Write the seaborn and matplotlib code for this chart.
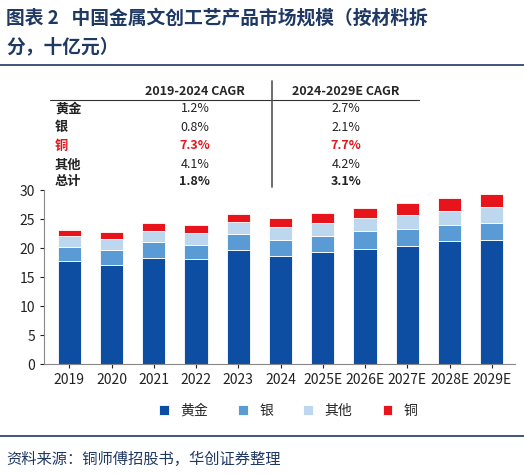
import matplotlib.pyplot as plt
import seaborn as sns
import pandas as pd

years = ["2019", "2020", "2021", "2022", "2023", "2024", "2025E", "2026E", "2027E", "2028E", "2029E"]
gold = [17.7, 17.1, 18.3, 18.05, 19.65, 18.7, 19.35, 19.9, 20.35, 21.15, 21.4]
silver = [2.5, 2.6, 2.8, 2.55, 2.7, 2.7, 2.75, 3.0, 2.95, 2.75, 3.0]
other = [1.8, 1.85, 1.9, 2.0, 2.15, 2.2, 2.3, 2.2, 2.4, 2.5, 2.6]
copper = [1.05, 1.25, 1.4, 1.4, 1.4, 1.6, 1.7, 1.8, 2.05, 2.15, 2.35]

tbl_names = ["黄金", "银", "铜", "其他", "总计"]
cagr_1924 = ["1.2%", "0.8%", "7.3%", "4.1%", "1.8%"]
cagr_2429 = ["2.7%", "2.1%", "7.7%", "4.2%", "3.1%"]

sns.set_style("ticks")
plt.rcParams['font.family'] = ['Noto Sans CJK SC', 'DejaVu Sans']

df = pd.DataFrame({"year": years, "黄金": gold, "银": silver, "其他": other, "铜": copper})
series = [("黄金", "#0d4ea3"), ("银", "#5b9bd5"), ("其他", "#bdd7ee"), ("铜", "#e8141c")]

fig = plt.figure(figsize=(5.24, 4.74), dpi=100)
ax = fig.add_axes([0.084, 0.232, 0.899, 0.367])
bottom = [0.0] * len(years)
for name, color in series:
    sns.barplot(x=df["year"], y=df[name], bottom=bottom, color=color, width=0.55,
                saturation=1, ax=ax, edgecolor="white", linewidth=0.6, label=name)
    bottom = [b + v for b, v in zip(bottom, df[name])]

handles, labels = ax.get_legend_handles_labels()
if ax.get_legend() is not None:
    ax.get_legend().remove()

ax.set_ylim(0, 30)
ax.set_yticks(range(0, 31, 5))
ax.set_xlim(-0.6, len(years) - 0.45)
ax.set_xlabel("")
ax.set_ylabel("")
ax.tick_params(labelsize=10, length=3, colors="#222222")
sns.despine(ax=ax, top=True, right=True)
ax.spines["left"].set_color("#888888")
ax.spines["bottom"].set_color("#888888")

fig.legend(handles, labels, loc="center", bbox_to_anchor=(0.55, 0.133), ncol=4,
           frameon=False, fontsize=10, handlelength=0.7, handleheight=0.7, columnspacing=2.2)

# title
fig.text(0.012, 0.962, "图表 2   中国金属文创工艺产品市场规模（按材料拆",
         fontsize=13.5, fontweight="bold", color="#1f3864", va="center")
fig.text(0.012, 0.902, "分，十亿元）", fontsize=13.5, fontweight="bold", color="#1f3864",
         va="center")
fig.lines.append(plt.Line2D([0.0, 1.0], [0.862, 0.862], transform=fig.transFigure,
                            color="#1f3864", lw=1.2))

# CAGR table
fig.text(0.372, 0.806, "2019-2024 CAGR", ha="center", fontsize=9, fontweight="bold", va="center")
fig.text(0.66, 0.806, "2024-2029E CAGR", ha="center", fontsize=9, fontweight="bold", va="center")
fig.lines.append(plt.Line2D([0.095, 0.8], [0.789, 0.789], transform=fig.transFigure, color="#333333", lw=0.8))
fig.lines.append(plt.Line2D([0.519, 0.519], [0.83, 0.605], transform=fig.transFigure, color="#555555", lw=1.2))
row_y = [0.772, 0.732, 0.692, 0.652, 0.618]
for i, (n, a, b) in enumerate(zip(tbl_names, cagr_1924, cagr_2429)):
    c = "#e8141c" if n == "铜" else "#222222"
    w = "bold" if n in ("总计", "铜") else "normal"
    fig.text(0.105, row_y[i], n, fontsize=9.5, fontweight="bold", color=c, va="center")
    fig.text(0.372, row_y[i], a, fontsize=9, fontweight=w, color=c, ha="center", va="center")
    fig.text(0.66, row_y[i], b, fontsize=9, fontweight=w, color=c, ha="center", va="center")

fig.lines.append(plt.Line2D([0.0, 1.0], [0.08, 0.08], transform=fig.transFigure, color="#1f3864", lw=1.2))
fig.text(0.012, 0.03, "资料来源：铜师傅招股书，华创证券整理", fontsize=11, style="italic",
         color="#1f3864", va="center")

fig.savefig("out.png", dpi=100)
